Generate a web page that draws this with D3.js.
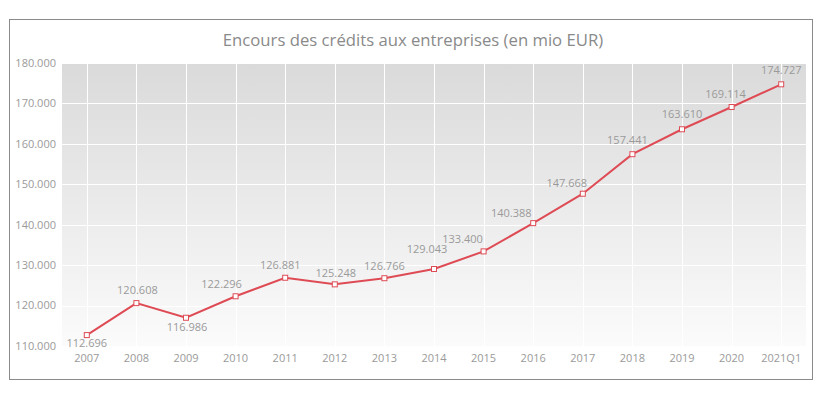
<!DOCTYPE html>
<html>
<head>
<meta charset="utf-8">
<script src="https://cdn.jsdelivr.net/npm/d3@7/dist/d3.min.js"></script>
<style>
  html, body { margin: 0; padding: 0; background: #ffffff; }
  svg { display: block; }
</style>
</head>
<body>
<svg id="chart" width="826" height="397"></svg>
<script>
const title = "Encours des crédits aux entreprises (en mio EUR)";
const categories = ["2007","2008","2009","2010","2011","2012","2013","2014","2015","2016","2017","2018","2019","2020","2021Q1"];
const values = [112.696,120.608,116.986,122.296,126.881,125.248,126.766,129.043,133.400,140.388,147.668,157.441,163.610,169.114,174.727];
const yTicks = [110,120,130,140,150,160,170,180];
// label placement offsets relative to each point (px)
const labelDx = [0,1,1,-14,-5,1,0,-7,-21,-22,-16,-5,0,-6,0];
const labelDy = [8,-13,9,-12,-13,-11,-12,-20,-12,-10,-11,-14,-15,-13,-14];

const svg = d3.select("#chart");
const plot = {left: 62, top: 63, right: 806, bottom: 346};
const font = "'Open Sans', sans-serif";
const textColor = "#9a9a9a";
const lineColor = "#de4b55";

// outer frame
svg.append("rect").attr("x", 9.5).attr("y", 19.5).attr("width", 803).attr("height", 360)
  .attr("fill", "#ffffff").attr("stroke", "#8a8a8a").attr("stroke-width", 1);

// gradient
const defs = svg.append("defs");
const grad = defs.append("linearGradient").attr("id", "bg").attr("x1", 0).attr("y1", 0).attr("x2", 0).attr("y2", 1);
grad.append("stop").attr("offset", "0%").attr("stop-color", "#dadada");
grad.append("stop").attr("offset", "100%").attr("stop-color", "#fbfbfb");

svg.append("rect").attr("x", plot.left).attr("y", plot.top)
  .attr("width", plot.right - plot.left).attr("height", plot.bottom - plot.top)
  .attr("fill", "url(#bg)");

const x = d3.scaleBand().domain(categories).range([plot.left, plot.right]).padding(0);
const cx = d => x(d) + x.bandwidth() / 2;
const y = d3.scaleLinear().domain([110, 180]).range([plot.bottom, plot.top]);

// grid
const g = svg.append("g");
g.selectAll("line.h").data(yTicks).join("line")
  .attr("x1", plot.left).attr("x2", plot.right)
  .attr("y1", d => Math.round(y(d)) + 0.5).attr("y2", d => Math.round(y(d)) + 0.5)
  .attr("stroke", "#ffffff").attr("stroke-width", 1);
g.selectAll("line.v").data(categories).join("line")
  .attr("y1", plot.top).attr("y2", plot.bottom)
  .attr("x1", d => Math.round(cx(d)) + 0.5).attr("x2", d => Math.round(cx(d)) + 0.5)
  .attr("stroke", "#ffffff").attr("stroke-width", 1);

// y axis labels
const fmt = v => d3.format(".3f")(v);
svg.selectAll("text.ytick").data(yTicks).join("text")
  .attr("x", 56).attr("y", d => y(d))
  .attr("dy", "0.35em")
  .attr("text-anchor", "end")
  .attr("font-family", font).attr("font-size", 11)
  .attr("fill", textColor)
  .text(d => fmt(d));

// x axis labels
svg.selectAll("text.xtick").data(categories).join("text")
  .attr("x", d => cx(d)).attr("y", 358)
  .attr("dy", "0.35em")
  .attr("text-anchor", "middle")
  .attr("font-family", font).attr("font-size", 11)
  .attr("fill", textColor)
  .text(d => d);

// title
svg.append("text").attr("x", 413).attr("y", 40).attr("dy", "0.35em")
  .attr("text-anchor", "middle")
  .attr("font-family", font).attr("font-size", 16.7)
  .attr("fill", "#8a8a8a")
  .text(title);

// line
const data = categories.map((c, i) => ({c, v: values[i], i}));
const line = d3.line().x(d => cx(d.c)).y(d => y(d.v));
svg.append("path").datum(data).attr("d", line)
  .attr("fill", "none").attr("stroke", lineColor).attr("stroke-width", 2);

// markers
svg.selectAll("rect.m").data(data).join("rect")
  .attr("x", d => cx(d.c) - 2.5).attr("y", d => y(d.v) - 2.5)
  .attr("width", 5).attr("height", 5)
  .attr("fill", "#ffffff").attr("stroke", lineColor).attr("stroke-width", 1);

// value labels
svg.selectAll("text.lbl").data(data).join("text")
  .attr("x", d => cx(d.c) + labelDx[d.i])
  .attr("y", d => y(d.v) + labelDy[d.i])
  .attr("dy", "0.35em")
  .attr("text-anchor", "middle")
  .attr("font-family", font).attr("font-size", 11)
  .attr("fill", textColor)
  .text(d => fmt(d.v));
</script>
</body>
</html>
